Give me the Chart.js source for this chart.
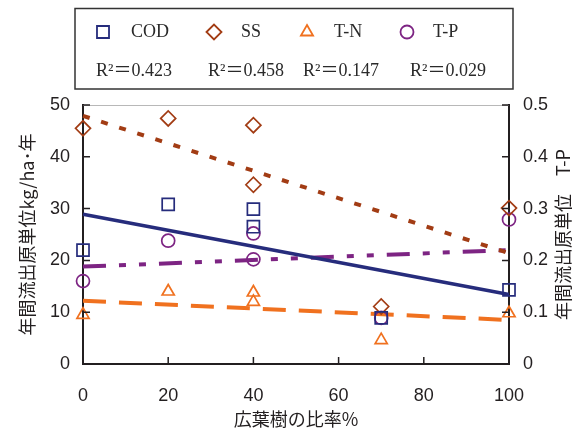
<!DOCTYPE html>
<html>
<head>
<meta charset="utf-8">
<script src="https://cdn.jsdelivr.net/npm/chart.js@4/dist/chart.umd.min.js"></script>
<style>
  html, body { margin: 0; padding: 0; background: #fff; }
  #wrap { width: 582px; height: 430px; }
</style>
</head>
<body>
<div id="wrap"><canvas id="c" width="582" height="430"></canvas></div>
<script>
// Broadleaf ratio (%) of each catchment
const ratio = [0, 20, 40, 40, 70, 100];
// Annual outflow loads (kg/ha/yr); T-P uses the right axis
const cod = [22.0, 30.8, 29.9, 26.5, 8.9, 14.3];
const ss  = [45.5, 47.4, 46.1, 34.6, 11.1, 30.1];
const tn  = [9.5, 14.0, 13.8, 12.0, 4.6, 9.8];
const tp  = [0.160, 0.238, 0.252, 0.202, 0.089, 0.279];
// Linear trend lines, value at 0% and 100%
const trendX   = [0, 100];
const codTrend = [28.9, 13.4];
const ssTrend  = [47.9, 21.4];
const tnTrend  = [12.2, 8.5];
const tpTrend  = [0.188, 0.220];
// Legend
const seriesNames = ['COD', 'SS', 'T-N', 'T-P'];
const r2Values = ['0.423', '0.458', '0.147', '0.029'];

const INK = '#231f20';
const C_COD = '#262c7c';
const C_SS  = '#a23c14';
const C_TN  = '#f0711f';
const C_TP  = '#7d2483';

const pts = (xs, ys) => xs.map((x, i) => ({ x: x, y: ys[i] }));

function pointSet(label, data, color, style, radius, axis) {
  return {
    label, data: pts(ratio, data), yAxisID: axis,
    showLine: false, pointStyle: style, pointRadius: radius, pointHoverRadius: radius,
    pointBorderColor: color, pointBackgroundColor: 'rgba(255,255,255,0)',
    pointBorderWidth: 1.7, clip: false, order: 0
  };
}
function trendSet(data, color, dash, width, axis) {
  return {
    data: pts(trendX, data), yAxisID: axis, showLine: true,
    borderColor: color, borderWidth: width, borderDash: dash, borderCapStyle: 'butt',
    pointRadius: 0, pointHoverRadius: 0, fill: false, clip: false, order: 1
  };
}

const legendItems = [
  { style: 'rect',     color: C_COD, r: 8.5, mx: 103, tx: 131, rx: 96 },
  { style: 'rectRot',  color: C_SS,  r: 7.5, mx: 214, tx: 241, rx: 208 },
  { style: 'triangle', color: C_TN,  r: 7,   mx: 307, tx: 334, rx: 303 },
  { style: 'circle',   color: C_TP,  r: 6.5, mx: 407, tx: 433, rx: 410 }
];

const framePlugin = {
  id: 'frame',
  afterDraw(chart) {
    const { ctx, chartArea: a, scales } = chart;
    ctx.save();
    // light top edge of the plot area
    ctx.strokeStyle = '#b8b8b8';
    ctx.lineWidth = 1;
    ctx.beginPath();
    ctx.moveTo(a.left, a.top + 0.5);
    ctx.lineTo(a.right, a.top + 0.5);
    ctx.stroke();

    // inward tick marks
    ctx.strokeStyle = INK;
    ctx.lineWidth = 1.5;
    ctx.beginPath();
    scales.y.ticks.forEach(t => {
      const py = scales.y.getPixelForValue(t.value);
      ctx.moveTo(a.left, py); ctx.lineTo(a.left + 7, py);
    });
    scales.y1.ticks.forEach(t => {
      const py = scales.y1.getPixelForValue(t.value);
      ctx.moveTo(a.right, py); ctx.lineTo(a.right - 7, py);
    });
    scales.x.ticks.forEach(t => {
      const px = scales.x.getPixelForValue(t.value);
      ctx.moveTo(px, a.bottom); ctx.lineTo(px, a.bottom - 7);
    });
    ctx.stroke();

    // right axis title, reading bottom to top
    ctx.save();
    ctx.translate(563, (a.top + a.bottom) / 2);
    ctx.rotate(-Math.PI / 2);
    ctx.fillStyle = INK;
    ctx.font = '18px "Noto Sans CJK JP"';
    ctx.textAlign = 'center';
    ctx.textBaseline = 'middle';
    ctx.fillText('年間流出原単位　T-P', 0, 0);
    ctx.restore();

    // legend box
    ctx.strokeStyle = '#333';
    ctx.lineWidth = 1.5;
    ctx.strokeRect(75, 8.5, 438, 80.5);
    ctx.textBaseline = 'middle';
    ctx.textAlign = 'left';
    legendItems.forEach((it, i) => {
      ctx.strokeStyle = it.color;
      ctx.fillStyle = 'rgba(255,255,255,0)';
      ctx.lineWidth = 1.8;
      Chart.helpers.drawPoint(ctx, { pointStyle: it.style, radius: it.r, borderWidth: 1.8, rotation: 0 }, it.mx, 32);
      ctx.fillStyle = '#2a2a2a';
      ctx.font = '18px "Liberation Serif", "Noto Sans CJK JP"';
      ctx.fillText(seriesNames[i], it.tx, 32);
      ctx.fillText('R²＝' + r2Values[i], it.rx, 71);
    });
    ctx.restore();
  }
};

new Chart(document.getElementById('c'), {
  type: 'scatter',
  data: {
    datasets: [
      pointSet('COD', cod, C_COD, 'rect', 8.5, 'y'),
      pointSet('SS', ss, C_SS, 'rectRot', 7.5, 'y'),
      pointSet('T-N', tn, C_TN, 'triangle', 7, 'y'),
      pointSet('T-P', tp, C_TP, 'circle', 6.5, 'y1'),
      trendSet(codTrend, C_COD, [], 3.5, 'y'),
      trendSet(ssTrend, C_SS, [7, 12], 4, 'y'),
      trendSet(tnTrend, C_TN, [23, 13], 4, 'y'),
      trendSet(tpTrend, C_TP, [23, 13, 7, 13, 7, 13], 4, 'y1')
    ]
  },
  options: {
    responsive: false,
    animation: false,
    devicePixelRatio: 1,
    layout: { padding: { top: 105, left: 0, right: 0, bottom: 0 } },
    plugins: { legend: { display: false }, tooltip: { enabled: false } },
    scales: {
      x: {
        type: 'linear', min: 0, max: 100,
        ticks: { stepSize: 20, padding: 21, color: INK, font: { family: 'Liberation Sans', size: 18 } },
        grid: { display: false, drawTicks: false },
        border: { display: true, color: INK, width: 2 },
        title: { display: true, text: '広葉樹の比率%', color: INK, padding: 0,
                 font: { family: 'Noto Sans CJK JP', size: 18 } },
        afterFit: s => { s.height = 66; }
      },
      y: {
        position: 'left', min: 0, max: 50,
        ticks: { stepSize: 10, padding: 13, color: INK, font: { family: 'Liberation Sans', size: 18 } },
        grid: { display: false, drawTicks: false },
        border: { display: true, color: INK, width: 2 },
        title: { display: true, text: '年間流出原単位kg/ha･年', color: INK, padding: { top: 16, bottom: 0 },
                 font: { family: 'Noto Sans CJK JP', size: 18 } },
        afterFit: s => { s.width = 83; }
      },
      y1: {
        position: 'right', min: 0, max: 0.5,
        ticks: { stepSize: 0.1, padding: 14, color: INK, font: { family: 'Liberation Sans', size: 18 },
                 callback: v => String(+v.toFixed(1)) },
        grid: { display: false, drawTicks: false },
        border: { display: true, color: INK, width: 2 },
        afterFit: s => { s.width = 73; }
      }
    }
  },
  plugins: [framePlugin]
});
</script>
</body>
</html>
